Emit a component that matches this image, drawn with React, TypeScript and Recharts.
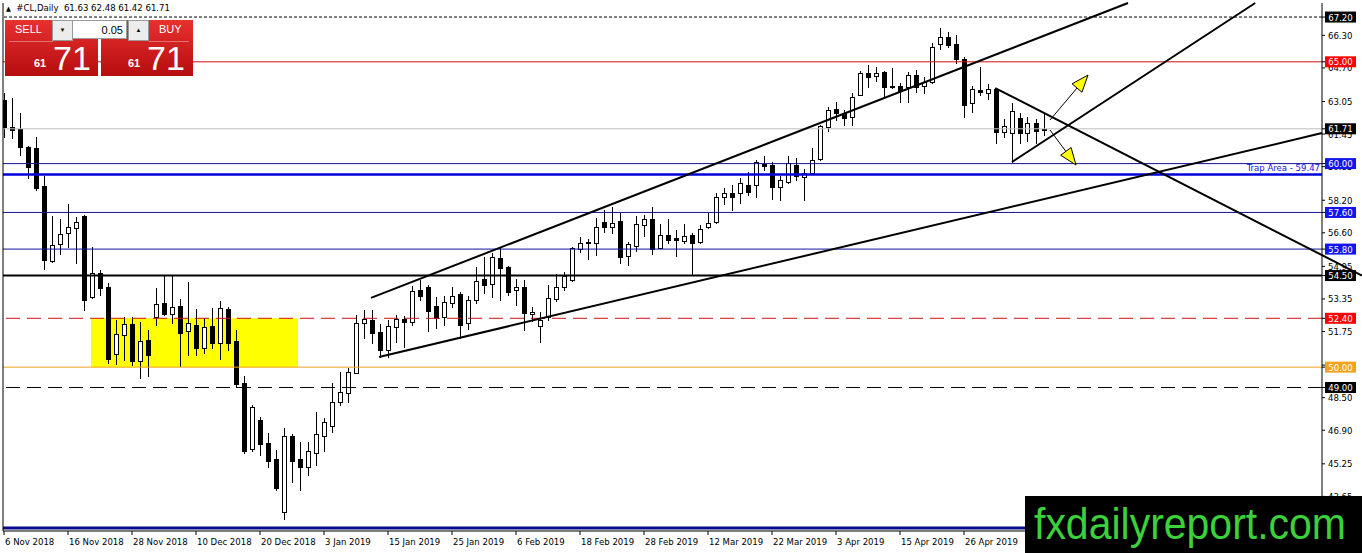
import React from 'react';
import { ComposedChart, Bar, XAxis, YAxis, ReferenceLine, ReferenceArea } from 'recharts';

const FONT = "'DejaVu Sans Condensed', 'Liberation Sans', sans-serif";

// daily bars, index 0 = 6 Nov 2018
const opens = [
  63.12, 61.80, 61.70, 60.81, 60.77, 58.90, 55.22, 56.05, 56.59, 56.84,
  57.43, 53.45, 54.63, 53.94, 50.65, 51.58, 52.12, 50.30, 51.33, 52.46,
  53.15, 52.61, 53.00, 51.78, 52.07, 50.94, 52.02, 51.19, 52.86, 51.29,
  49.22, 45.98, 47.40, 46.27, 45.49, 42.89, 46.62, 45.49, 45.10, 45.80,
  46.60, 47.10, 48.29, 48.73, 49.71, 52.17, 52.32, 51.73, 50.84, 51.97,
  52.37, 52.22, 53.79, 53.94, 53.00, 52.46, 53.15, 53.59, 52.17, 53.30,
  54.33, 54.08, 55.36, 54.92, 53.79, 53.94, 52.61, 52.02, 52.46, 53.35,
  53.94, 54.28, 55.80, 56.10, 56.10, 57.13, 56.88, 57.18, 55.46, 55.95,
  56.98, 57.28, 55.85, 56.49, 56.34, 56.20, 56.49, 56.15, 56.88, 57.13,
  58.36, 58.55, 58.55, 58.95, 58.95, 59.98, 59.93, 58.85, 59.09, 59.93,
  59.34, 59.54, 60.22, 61.80, 62.68, 62.48, 62.29, 63.37, 64.45, 64.30,
  64.50, 63.81, 63.81, 63.76, 64.35, 63.81, 64.01, 65.87, 66.22, 65.87,
  65.14, 62.98, 63.61, 63.47, 63.66, 61.55, 61.50, 62.24, 61.50, 61.99,
  61.63,
];
const highs = [
  63.47, 63.22, 62.48, 60.85, 61.31, 59.39, 57.43, 57.28, 58.01, 57.38,
  57.47, 55.90, 54.77, 54.13, 52.32, 52.46, 52.46, 52.22, 51.83, 53.89,
  54.53, 54.53, 53.35, 54.18, 52.86, 52.41, 52.91, 53.25, 52.96, 51.83,
  49.57, 48.14, 47.55, 46.77, 45.93, 47.01, 46.72, 46.32, 46.30, 47.80,
  47.50, 49.20, 49.76, 49.96, 52.56, 52.81, 52.81, 52.12, 52.32, 52.56,
  52.51, 53.99, 54.28, 54.04, 53.45, 53.50, 53.94, 53.69, 53.50, 54.92,
  55.41, 55.61, 55.85, 54.97, 54.33, 54.28, 52.96, 52.71, 54.04, 54.58,
  54.67, 55.90, 56.39, 56.30, 57.33, 57.72, 57.87, 57.57, 56.15, 57.43,
  57.47, 57.87, 57.03, 57.28, 56.74, 57.03, 56.59, 56.98, 57.57, 58.55,
  58.80, 58.95, 59.29, 59.59, 60.18, 60.37, 60.08, 59.39, 60.37, 60.27,
  59.73, 60.77, 61.89, 62.78, 63.02, 62.63, 63.47, 64.55, 64.84, 64.74,
  64.55, 64.69, 63.96, 64.50, 64.60, 64.25, 65.92, 66.66, 66.46, 66.32,
  65.24, 63.81, 64.74, 63.91, 63.71, 62.19, 62.98, 62.48, 62.29, 62.19,
  62.48,
];
const lows = [
  61.31, 61.26, 60.42, 59.29, 58.70, 54.82, 55.17, 55.56, 55.90, 55.12,
  52.81, 53.40, 53.54, 50.20, 50.16, 50.35, 50.11, 49.47, 49.57, 52.07,
  52.56, 52.17, 50.06, 50.60, 50.60, 50.70, 50.94, 50.40, 50.84, 49.03,
  45.78, 45.88, 45.69, 45.10, 43.97, 42.54, 44.36, 43.97, 44.70, 45.20,
  45.90, 46.80, 48.14, 48.29, 49.71, 51.43, 51.19, 50.50, 50.50, 51.24,
  50.99, 52.07, 53.30, 51.78, 51.92, 52.07, 52.96, 51.43, 51.87, 53.15,
  53.64, 53.45, 53.30, 53.54, 53.05, 51.83, 52.27, 51.24, 52.32, 53.25,
  53.79, 54.23, 55.66, 55.31, 55.51, 56.64, 56.59, 55.12, 55.02, 55.71,
  56.44, 55.56, 55.85, 56.10, 55.46, 56.10, 54.53, 56.10, 56.84, 57.08,
  58.01, 57.72, 58.06, 58.46, 58.36, 59.68, 58.26, 58.21, 59.05, 59.19,
  58.21, 59.49, 60.18, 61.60, 62.14, 61.89, 61.89, 63.37, 63.76, 64.06,
  63.32, 63.71, 63.02, 63.02, 63.52, 63.47, 63.96, 65.63, 65.73, 64.94,
  62.29, 62.53, 63.37, 63.17, 61.01, 61.31, 60.08, 61.01, 61.11, 61.01,
  61.42,
];
const closes = [
  61.80, 61.65, 60.81, 59.83, 58.80, 55.26, 56.00, 56.54, 56.88, 57.13,
  53.30, 54.63, 53.89, 50.40, 51.63, 52.12, 50.30, 51.29, 50.60, 53.10,
  52.61, 52.96, 51.68, 52.17, 50.94, 51.97, 51.19, 52.91, 51.19, 49.17,
  45.88, 48.04, 46.23, 45.39, 44.06, 46.62, 45.39, 45.10, 45.90, 46.70,
  47.30, 48.30, 48.78, 49.76, 52.17, 52.37, 51.68, 50.84, 52.02, 52.37,
  52.22, 53.74, 53.50, 52.76, 52.41, 53.20, 53.50, 52.07, 53.30, 54.23,
  54.04, 55.41, 54.87, 53.69, 53.94, 52.66, 52.71, 52.32, 53.40, 53.94,
  54.48, 55.85, 56.10, 56.15, 56.88, 56.88, 57.08, 55.41, 56.05, 57.03,
  57.28, 55.80, 56.49, 56.25, 56.25, 56.44, 56.10, 56.79, 57.08, 58.36,
  58.55, 58.36, 59.05, 58.60, 60.08, 59.88, 58.85, 59.19, 60.03, 59.39,
  59.54, 60.18, 61.85, 62.63, 62.48, 62.24, 63.27, 64.45, 64.25, 64.45,
  63.76, 63.76, 63.57, 64.35, 63.76, 64.01, 65.73, 66.22, 65.82, 65.14,
  62.88, 63.66, 63.52, 63.66, 61.55, 61.85, 62.58, 61.50, 61.99, 61.60,
  61.71,
];

// one label every 8 bars
const dateLabels = [
  '6 Nov 2018', '16 Nov 2018', '28 Nov 2018', '10 Dec 2018', '20 Dec 2018', '3 Jan 2019',
  '15 Jan 2019', '25 Jan 2019', '6 Feb 2019', '18 Feb 2019', '28 Feb 2019', '12 Mar 2019',
  '22 Mar 2019', '3 Apr 2019', '15 Apr 2019', '26 Apr 2019',
];
const priceTicks = [66.3, 64.7, 63.05, 61.45, 59.85, 58.2, 56.6, 54.95, 53.35, 51.75, 50.1, 48.5, 46.9, 45.25, 43.65];

// horizontal levels drawn on the chart
const levels = [67.2, 65.0, 61.71, 60.0, 59.47, 57.6, 55.8, 54.5, 52.4, 50.0, 49.0, 42.1];
const levelStyles = [
  { stroke: '#000', width: 1, dash: '3 2', tag: '#000' },
  { stroke: '#d01010', width: 1, dash: undefined, tag: '#ff0000' },
  { stroke: '#c0c0c0', width: 1, dash: undefined, tag: '#000' },
  { stroke: '#12129c', width: 1, dash: undefined, tag: '#1414f0' },
  { stroke: '#0000dd', width: 2.5, dash: undefined, tag: null },
  { stroke: '#12129c', width: 1, dash: undefined, tag: '#1414f0' },
  { stroke: '#12129c', width: 1, dash: undefined, tag: '#1414f0' },
  { stroke: '#000', width: 2, dash: undefined, tag: '#000' },
  { stroke: '#d01010', width: 1, dash: '14 7', tag: '#ff0000' },
  { stroke: '#f0a020', width: 1, dash: undefined, tag: '#f5a31c' },
  { stroke: '#000', width: 1, dash: '14 7', tag: '#000' },
  { stroke: '#0a0a8c', width: 3, dash: undefined, tag: null },
];
const tagged = levels.filter((_, k) => levelStyles[k].tag);

// yellow box
const zoneBars = [10.875, 36.75];
const zonePrices = [50.0, 52.4];

// hand drawn trend lines [bar, price]
const trendLines = [
  [[45.875, 53.4], [140.5, 67.89]],
  [[46.875, 50.5], [164.75, 61.5]],
  [[123.9, 63.71], [169.75, 54.5]],
  [[126, 60.08], [156.4, 67.89]],
];
const arrows = [
  [[130.75, 62.14], [135.5, 64.35]],
  [[130.75, 61.65], [134, 59.93]],
];

const data = opens.map((o, i) => ({ i, open: o, high: highs[i], low: lows[i], close: closes[i] }));

const Candle = (props: any) => {
  const { x, y, width, height, payload } = props;
  if (x == null || !payload) return null;
  const { open, close, high, low } = payload;
  const top = Math.min(y, y + height);
  const h = Math.abs(height);
  const span = high - low;
  const pos = (v: number) => (span > 0 ? top + ((high - v) / span) * h : top);
  const c = Math.round(x + width / 2);
  const bTop = Math.round(pos(Math.max(open, close)));
  const bBot = Math.round(pos(Math.min(open, close)));
  const bull = close >= open;
  return (
    <g>
      <line x1={c + 0.5} x2={c + 0.5} y1={Math.round(top)} y2={Math.round(top + h) + 1} stroke="#000" strokeWidth={1} />
      <rect
        x={c - 2 + 0.5}
        y={bTop + 0.5}
        width={4}
        height={Math.max(bBot - bTop, 0.01)}
        fill={bull ? '#fff' : '#000'}
        stroke="#000"
        strokeWidth={1}
      />
    </g>
  );
};

// plain price ticks first, coloured level tags last so they sit on top
const PriceTick = (props: any) => {
  const { x, y, payload } = props;
  const v = payload.value;
  const k = levels.indexOf(v);
  const tag = k >= 0 ? levelStyles[k].tag : null;
  if (tag) {
    return (
      <g>
        <rect x={x - 3} y={y - 5.5} width={31} height={11} fill={tag} />
        <text x={x + 12.5} y={y + 3.5} textAnchor="middle" fontSize={9.5} fill="#fff" fontFamily={FONT}>
          {v.toFixed(2)}
        </text>
      </g>
    );
  }
  return (
    <text x={x} y={y + 3.5} textAnchor="start" fontSize={9.5} fill="#000" fontFamily={FONT}>
      {v.toFixed(2)}
    </text>
  );
};

const trapLabel = (props: any) => {
  const vb = props.viewBox;
  if (!vb) return null;
  return (
    <text x={vb.x + vb.width - 2} y={vb.y - 3} textAnchor="end" fontSize={9.5} fill="#1414e0" fontFamily={FONT}>
      Trap Area - 59.47
    </text>
  );
};

const arrowShape = (props: any) => {
  const { x1, y1, x2, y2 } = props;
  const a = Math.atan2(y2 - y1, x2 - x1);
  const L = 17;
  const W = 6.5;
  const bx = x2 - L * Math.cos(a);
  const by = y2 - L * Math.sin(a);
  const pts = `${x2},${y2} ${bx + W * Math.sin(a)},${by - W * Math.cos(a)} ${bx - W * Math.sin(a)},${by + W * Math.cos(a)}`;
  return (
    <g>
      <line x1={x1} y1={y1} x2={bx} y2={by} stroke="#000" strokeWidth={1} />
      <polygon points={pts} fill="#ffff00" stroke="#000" strokeWidth={1} />
    </g>
  );
};

const DateTick = (props: any) => {
  const { x, y, payload } = props;
  return (
    <text x={x + 1} y={y} dy={8} textAnchor="start" fontSize={9.5} fill="#000" fontFamily={FONT}>
      {dateLabels[Math.round(payload.value / 8)]}
    </text>
  );
};

const btn: React.CSSProperties = {
  position: 'absolute',
  background: 'linear-gradient(#e8302f, #b50d0f)',
  color: '#fff',
  fontFamily: "'Liberation Sans', sans-serif",
};

export default function App() {
  return (
    <div style={{ position: 'absolute', left: 0, top: 0, width: 1362, height: 553, background: '#fff', overflow: 'hidden' }}>
      <ComposedChart
        width={1362}
        height={553}
        data={data}
        margin={{ top: 3, right: 0, bottom: 0, left: 3 }}
        style={{ fontFamily: FONT }}
      >
        <XAxis
          type="number"
          dataKey="i"
          domain={[-0.125, 164.75]}
          allowDataOverflow
          ticks={dateLabels.map((_, k) => k * 8)}
          interval={0}
          tick={<DateTick />}
          tickSize={4}
          height={22}
          axisLine={{ stroke: '#000' }}
          tickLine={{ stroke: '#000' }}
        />
        <YAxis
          orientation="right"
          domain={[41.95, 67.89]}
          allowDataOverflow
          ticks={[...priceTicks, ...tagged]}
          interval={0}
          width={40}
          tickSize={3}
          tickMargin={3}
          tick={<PriceTick />}
          axisLine={{ stroke: '#000' }}
          tickLine={{ stroke: '#000' }}
        />
        <ReferenceArea
          x1={zoneBars[0]}
          x2={zoneBars[1]}
          y1={zonePrices[0]}
          y2={zonePrices[1]}
          fill="#ffff00"
          fillOpacity={1}
          stroke="none"
        />
        {levels.map((v, k) => {
          const s = levelStyles[k];
          return (
            <ReferenceLine
              key={'lv' + k}
              y={v}
              stroke={s.stroke}
              strokeWidth={s.width}
              strokeDasharray={s.dash}
              label={k === 4 ? trapLabel : undefined}
            />
          );
        })}
        <ReferenceLine x={-0.125} stroke="#000" ifOverflow="visible" />
        <Bar
          dataKey={(d: any) => [d.low, d.high]}
          barSize={7}
          shape={<Candle />}
          isAnimationActive={false}
        />
        {trendLines.map((seg, k) => (
          <ReferenceLine
            key={'tl' + k}
            segment={[{ x: seg[0][0], y: seg[0][1] }, { x: seg[1][0], y: seg[1][1] }]}
            stroke="#000"
            strokeWidth={2}
            ifOverflow="visible"
          />
        ))}
        {arrows.map((seg, k) => (
          <ReferenceLine
            key={'ar' + k}
            segment={[{ x: seg[0][0], y: seg[0][1] }, { x: seg[1][0], y: seg[1][1] }]}
            ifOverflow="visible"
            shape={arrowShape}
          />
        ))}
      </ComposedChart>

      {/* header */}
      <div style={{ position: 'absolute', left: 6, top: 2, fontFamily: FONT, fontSize: 9.5, color: '#000', whiteSpace: 'pre' }}>
        <span style={{ fontSize: 7 }}>▲</span>{'  #CL,Daily  61.63 62.48 61.42 61.71'}
      </div>

      {/* one click trading panel */}
      <div style={{ ...btn, left: 5, top: 20, width: 93, height: 56 }}>
        <div style={{ position: 'absolute', left: 10, top: 3, fontSize: 11 }}>SELL</div>
        <div style={{ position: 'absolute', left: 4, top: 21, width: 44, height: 1, background: 'rgba(255,255,255,0.35)' }} />
        <div style={{ position: 'absolute', left: 29, top: 37, fontSize: 11, fontWeight: 'bold' }}>61</div>
        <div style={{ position: 'absolute', left: 48, top: 21, fontSize: 34, lineHeight: '34px' }}>71</div>
      </div>
      <div style={{ ...btn, left: 101, top: 20, width: 92, height: 56 }}>
        <div style={{ position: 'absolute', left: 58, top: 3, fontSize: 11 }}>BUY</div>
        <div style={{ position: 'absolute', left: 48, top: 21, width: 40, height: 1, background: 'rgba(255,255,255,0.35)' }} />
        <div style={{ position: 'absolute', left: 27, top: 37, fontSize: 11, fontWeight: 'bold' }}>61</div>
        <div style={{ position: 'absolute', left: 46, top: 21, fontSize: 34, lineHeight: '34px' }}>71</div>
      </div>
      <div style={{ position: 'absolute', left: 52, top: 20, width: 19, height: 19, background: '#ececec', border: '1px solid #9a9a9a', fontSize: 6, textAlign: 'center', lineHeight: '19px' }}>▼</div>
      <div style={{ position: 'absolute', left: 72, top: 20, width: 55, height: 19, background: '#fff', border: '1px solid #9a9a9a', fontFamily: "'Liberation Sans', sans-serif", fontSize: 11, textAlign: 'right', lineHeight: '19px', paddingRight: 3, boxSizing: 'border-box' }}>0.05</div>
      <div style={{ position: 'absolute', left: 128, top: 20, width: 19, height: 19, background: '#ececec', border: '1px solid #9a9a9a', fontSize: 6, textAlign: 'center', lineHeight: '19px' }}>▲</div>

      {/* watermark */}
      <div style={{ position: 'absolute', left: 1025, top: 496, width: 337, height: 57, background: '#000' }}>
        <svg width={337} height={57}>
          <text x={9} y={43} fontSize={44} fill="#3bd13b" fontFamily="'Liberation Sans', Arial, sans-serif" textLength={312} lengthAdjust="spacingAndGlyphs">
            fxdailyreport.com
          </text>
        </svg>
      </div>
    </div>
  );
}
